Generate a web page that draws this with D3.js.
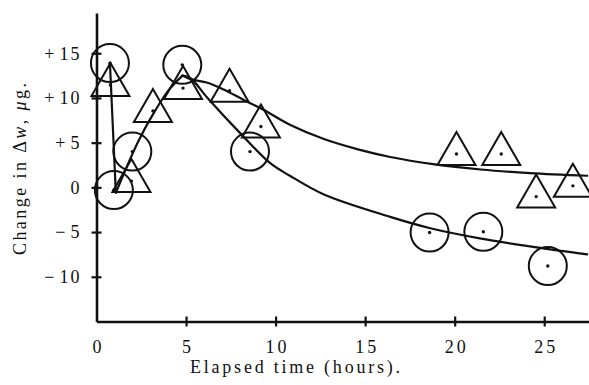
<!DOCTYPE html>
<html>
<head>
<meta charset="utf-8">
<script src="https://cdn.jsdelivr.net/npm/d3@7"></script>
<style>
  html, body { margin: 0; padding: 0; background: #fff; }
</style>
</head>
<body>
<svg id="chart" width="589" height="385"></svg>
<script>
// ---- data ----
const xTicks = [0, 5, 10, 15, 20, 25];
const xTickLabels = ["0", "5", "10", "15", "20", "25"];
const yTicks = [-10, -5, 0, 5, 10, 15];
const yTickLabels = ["\u221210", "\u22125", "0", "+5", "+10", "+15"];

// circle series (observed)
const circleT = [0.75, 0.97, 2.0, 4.79, 8.57, 18.6, 21.6, 25.2];
const circleV = [13.9, -0.3, 4.0, 13.7, 4.0, -5.05, -4.97, -8.8];

// triangle series (observed)
const triT = [0.78, 1.95, 3.15, 4.83, 7.43, 9.18, 20.1, 22.6, 24.55, 26.6];
const triV = [11.45, 0.7, 8.55, 11.1, 10.8, 6.8, 3.74, 3.74, -1.03, 0.17];

// drawn lines
const spikeT = [0.75, 1.08];
const spikeV = [13.9, -0.6];
const riseT = [1.08, 2.37, 3.3, 4.04, 4.8];
const riseV = [-0.6, 5.3, 8.66, 10.9, 12.5];
const upperT = [4.8, 5.25, 6.2, 7.1, 8.2, 9.3, 10.8, 12.7, 14.6, 16.4, 18.8, 21.45, 24.2, 27.4];
const upperV = [12.5, 12.1, 11.7, 10.95, 9.8, 8.7, 7.0, 5.4, 4.25, 3.4, 2.6, 2.0, 1.6, 1.3];
const lowerT = [4.8, 5.25, 6.2, 8.1, 9.7, 10.8, 12.7, 16.4, 18.7, 21.4, 24.2, 27.4];
const lowerV = [12.5, 12.2, 10.0, 5.9, 2.7, 1.3, -0.8, -3.3, -4.6, -5.7, -6.6, -7.5];

const xTitle = "Elapsed time (hours).";

// ---- drawing ----
const FONT = "Liberation Serif";
const svg = d3.select("#chart");
const x = d3.scaleLinear().domain([0, 27.5]).range([96.5, 589]);
const y = d3.scaleLinear().domain([-15, 19.5]).range([321.5, 13]);

const ink = "#111";

// axes
const yAxis = d3.axisLeft(y).tickValues(yTicks).tickFormat((d, i) => yTickLabels[i])
  .tickSizeInner(5).tickSizeOuter(0).tickPadding(10);
const gy = svg.append("g").attr("transform", `translate(${x(0)},0)`).call(yAxis)
  .attr("font-family", FONT).attr("font-size", 18);
gy.select(".domain").attr("stroke", ink).attr("stroke-width", 2.6);
gy.selectAll(".tick line").attr("x1", -5).attr("x2", 5).attr("stroke", ink).attr("stroke-width", 2.2);
gy.selectAll(".tick text").attr("fill", ink).each(function (d, i) {
  const lab = yTickLabels[i];
  const sel = d3.select(this);
  sel.text(null);
  const sign = lab[0];
  if (sign === "+" || sign === "\u2212") {
    sel.append("tspan").text(sign);
    sel.append("tspan").attr("dx", 5).attr("letter-spacing", 2).text(lab.slice(1));
  } else {
    sel.append("tspan").attr("letter-spacing", 2).text(lab);
  }
});

const xAxis = d3.axisBottom(x).tickValues(xTicks).tickFormat((d, i) => xTickLabels[i])
  .tickSizeInner(5).tickSizeOuter(0).tickPadding(13.5);
const gx = svg.append("g").attr("transform", `translate(0,${y(-15)})`).call(xAxis)
  .attr("font-family", FONT).attr("font-size", 18);
gx.select(".domain").attr("stroke", ink).attr("stroke-width", 2.6);
gx.selectAll(".tick line").attr("y1", -5).attr("y2", 5).attr("stroke", ink).attr("stroke-width", 2.2)
  .filter(d => d === 0).remove();
gx.selectAll(".tick text").attr("fill", ink).attr("letter-spacing", 3).attr("dx", 1.5);

// titles
svg.append("text")
  .attr("x", 295).attr("y", 373)
  .attr("text-anchor", "middle")
  .attr("font-family", FONT).attr("font-size", 18)
  .attr("fill", ink)
  .attr("textLength", 210).attr("lengthAdjust", "spacing")
  .text(xTitle);

const yt = svg.append("text")
  .attr("transform", "translate(26,169) rotate(-90)")
  .attr("text-anchor", "middle")
  .attr("font-family", FONT).attr("font-size", 18)
  .attr("fill", ink)
  .attr("textLength", 172).attr("lengthAdjust", "spacing");
yt.append("tspan").text("Change in \u0394");
yt.append("tspan").attr("font-style", "italic").text("w");
yt.append("tspan").text(", ");
yt.append("tspan").attr("font-style", "italic").text("\u03bc");
yt.append("tspan").text("g.");

// lines
const zip = (ts, vs) => ts.map((t, i) => [t, vs[i]]);
const lin = d3.line().x(d => x(d[0])).y(d => y(d[1]));
const smooth = d3.line().x(d => x(d[0])).y(d => y(d[1])).curve(d3.curveCatmullRom.alpha(0.5));
const lines = svg.append("g").attr("fill", "none").attr("stroke", ink).attr("stroke-width", 2.2)
  .attr("stroke-linejoin", "round").attr("stroke-linecap", "round");
lines.append("path").attr("d", lin(zip(spikeT, spikeV)));
lines.append("path").attr("d", smooth(zip(riseT, riseV)));
lines.append("path").attr("d", smooth(zip(upperT, upperV)));
lines.append("path").attr("d", smooth(zip(lowerT, lowerV)));

// circle markers
const circles = zip(circleT, circleV);
const cg = svg.append("g");
cg.selectAll("circle.m").data(circles).join("circle")
  .attr("class", "m")
  .attr("cx", d => x(d[0])).attr("cy", d => y(d[1])).attr("r", 19)
  .attr("fill", "none").attr("stroke", ink).attr("stroke-width", 2);
cg.selectAll("circle.dot").data(circles).join("circle")
  .attr("class", "dot")
  .attr("cx", d => x(d[0])).attr("cy", d => y(d[1])).attr("r", 1.7)
  .attr("fill", ink);

// triangle markers
const tris = zip(triT, triV);
const tg = svg.append("g");
tg.selectAll("path.m").data(tris).join("path")
  .attr("class", "m")
  .attr("transform", d => `translate(${x(d[0])},${y(d[1])})`)
  .attr("d", "M0,-22 L19,11 L-19,11 Z")
  .attr("fill", "none").attr("stroke", ink).attr("stroke-width", 2).attr("stroke-linejoin", "miter");
tg.selectAll("circle.dot").data(tris).join("circle")
  .attr("class", "dot")
  .attr("cx", d => x(d[0])).attr("cy", d => y(d[1])).attr("r", 1.7)
  .attr("fill", ink);
</script>
</body>
</html>
